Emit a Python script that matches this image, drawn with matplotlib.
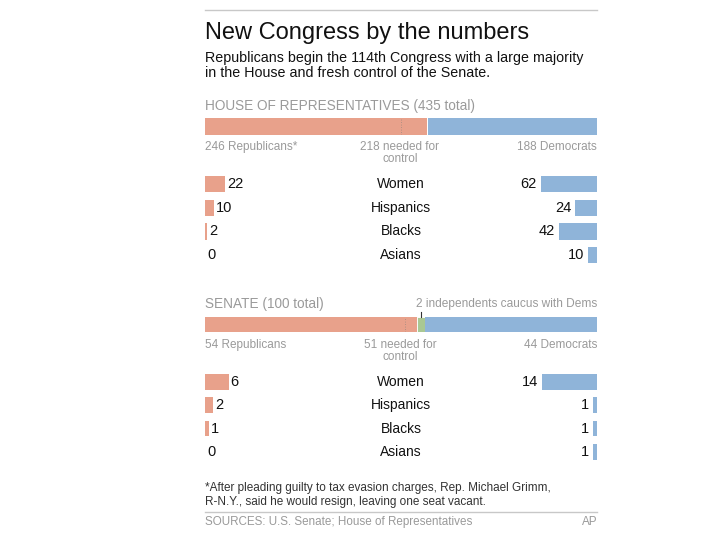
import matplotlib
matplotlib.use("Agg")
import matplotlib.pyplot as plt
import matplotlib.transforms as mtransforms

plt.rcParams['font.family'] = ['Liberation Sans', 'DejaVu Sans']

# Dati
house_total = 435
house_rep = 246
house_dem = 188
house_needed = 218
senate_total = 100
senate_rep = 54
senate_ind = 2
senate_dem = 44
senate_needed = 51

gruppi = ["Women", "Hispanics", "Blacks", "Asians"]
house_rep_gruppi = [22, 10, 2, 0]
house_dem_gruppi = [62, 24, 42, 10]
senate_rep_gruppi = [6, 2, 1, 0]
senate_dem_gruppi = [14, 1, 1, 1]

ROSSO = "#e8a18b"
BLU = "#8fb4d9"
VERDE = "#a9c893"
GRIGIO = "#9a9a9a"

W, H = 720, 540
fig = plt.figure(figsize=(7.2, 5.4), dpi=100)
fig.patch.set_facecolor("white")

X0, X1 = 205, 597


def fx(x):
    return x / W


def fy(y):
    return 1 - y / H


def testo(x, y, s, **kw):
    fig.text(fx(x), fy(y), s, **kw)


def asse(x0, y0, x1, y1):
    ax = fig.add_axes([fx(x0), fy(y1), (x1 - x0) / W, (y1 - y0) / H])
    ax.axis("off")
    return ax


def linea(y, color):
    fig.add_artist(plt.Line2D([fx(X0), fx(X1)], [fy(y), fy(y)], color=color, lw=1))


linea(10, "#c8c8c8")
testo(X0, 33, "New Congress by the numbers", fontsize=17, va="center", color="#111111")
testo(X0, 58, "Republicans begin the 114th Congress with a large majority",
      fontsize=10.3, va="center", color="#111111")
testo(X0, 73, "in the House and fresh control of the Senate.",
      fontsize=10.3, va="center", color="#111111")


def barra_totale(y0, y1, tot, rep, dem, needed, ind=0):
    ax = asse(X0, y0, X1, y1)
    ax.set_xlim(0, tot)
    ax.set_ylim(0, 1)
    ax.barh(0.5, rep, height=1, left=0, color=ROSSO)
    if ind:
        ax.barh(0.5, ind, height=1, left=rep, color=VERDE, edgecolor="white", lw=0.6)
    ax.barh(0.5, dem, height=1, left=tot - dem, color=BLU)
    ax.plot([needed, needed], [0, 1], color="#a08a80", lw=0.6, ls=(0, (1, 2)))
    return ax


def righe(y0, y1, tot, rep_vals, dem_vals):
    ax = asse(X0, y0, X1, y1)
    ax.set_xlim(0, tot)
    ax.set_ylim(len(gruppi) - 0.5, -0.5)
    for i, (g, r, d) in enumerate(zip(gruppi, rep_vals, dem_vals)):
        ax.barh(i, r, height=0.68, left=0, color=ROSSO)
        ax.barh(i, d, height=0.68, left=tot - d, color=BLU)
        ax.annotate(str(r), (r, i), xytext=(1.5, 0), textcoords="offset points",
                    va="center", ha="left", fontsize=10.5, color="#111111")
        ax.annotate(str(d), (tot - d, i), xytext=(-3, 0), textcoords="offset points",
                    va="center", ha="right", fontsize=10.5, color="#111111")
        ax.text(0.5, i, g, transform=mtransforms.blended_transform_factory(ax.transAxes, ax.transData),
                ha="center", va="center", fontsize=10, color="#111111")
    return ax


# Camera
testo(X0, 106, "HOUSE OF REPRESENTATIVES (%d total)" % house_total,
      fontsize=9.8, va="center", color=GRIGIO)
barra_totale(118, 135, house_total, house_rep, house_dem, house_needed)
testo(X0, 147, "%d Republicans*" % house_rep, fontsize=8.5, va="center", color=GRIGIO)
testo(400, 153, "%d needed for\ncontrol" % house_needed, fontsize=8.5, va="center",
      ha="center", color=GRIGIO, linespacing=1.1)
testo(X1, 147, "%d Democrats" % house_dem, fontsize=8.5, va="center", ha="right", color=GRIGIO)
righe(172.2, 267, house_total, house_rep_gruppi, house_dem_gruppi)

# Senato
testo(X0, 304, "SENATE (%d total)" % senate_total, fontsize=9.8, va="center", color=GRIGIO)
testo(X1, 304, "%d independents caucus with Dems" % senate_ind, fontsize=8.6,
      va="center", ha="right", color=GRIGIO)
ax_s = barra_totale(317, 332, senate_total, senate_rep, senate_dem, senate_needed, ind=senate_ind)
ax_s.plot([senate_rep + senate_ind / 2] * 2, [1, 1.35], color="#333333", lw=0.8, clip_on=False)
testo(X0, 345, "%d Republicans" % senate_rep, fontsize=8.5, va="center", color=GRIGIO)
testo(400, 351, "%d needed for\ncontrol" % senate_needed, fontsize=8.5, va="center",
      ha="center", color=GRIGIO, linespacing=1.1)
testo(X1, 345, "%d Democrats" % senate_dem, fontsize=8.5, va="center", ha="right", color=GRIGIO)
righe(370.3, 463.5, senate_total, senate_rep_gruppi, senate_dem_gruppi)

# Note
testo(X0, 488, "*After pleading guilty to tax evasion charges, Rep. Michael Grimm,",
      fontsize=8.45, va="center", color="#333333")
testo(X0, 502, "R-N.Y., said he would resign, leaving one seat vacant.",
      fontsize=8.45, va="center", color="#333333")
linea(512, "#c8c8c8")
testo(X0, 522, "SOURCES: U.S. Senate; House of Representatives", fontsize=8.4,
      va="center", color=GRIGIO)
testo(X1, 522, "AP", fontsize=8.4, va="center", ha="right", color=GRIGIO)

fig.savefig("out.png", dpi=100, facecolor="white")
